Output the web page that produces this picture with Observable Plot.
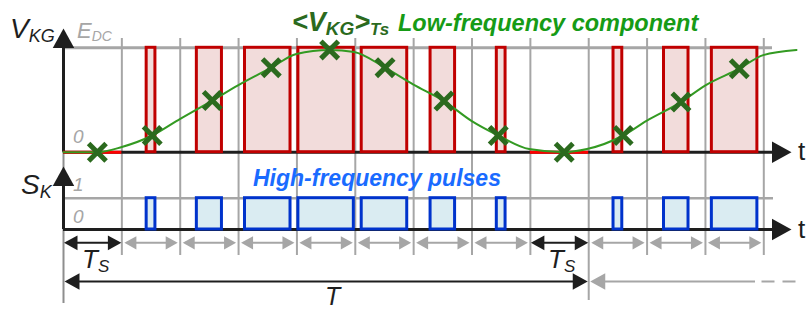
<!DOCTYPE html>
<html><head><meta charset="utf-8">
<script src="https://cdn.jsdelivr.net/npm/d3@7"></script>
<script src="https://cdn.jsdelivr.net/npm/@observablehq/plot@0.6"></script>
<style>body{margin:0;background:#fff}svg{display:block}</style>
</head><body><div id="chart"></div>
<script>
// ---------- data ----------
const periods = [0,1,2,3,4,5,6,7,8,9,10,11];            // switching periods (units of Ts)
const dutyCycles = [0,0.15,0.43,0.78,0.95,0.78,0.42,0.15,0,0.15,0.42,0.78];
const avgTimes  = [0.58,1.52,2.55,3.56,4.56,5.51,6.52,7.45,8.58,9.59,10.58,11.58];
const avgValues = [0,0.16,0.495,0.81,0.98,0.81,0.49,0.16,0,0.16,0.48,0.80];
const curveTimes  = [0,0.58,1.0,1.52,2.0,2.55,2.99,3.56,3.99,4.56,4.98,5.51,5.99,6.52,6.99,7.45,7.98,8.58,8.97,9.59,9.99,10.58,11.0,11.58,11.99,12.56];
const curveValues = [0,0,0.05,0.16,0.32,0.495,0.64,0.81,0.94,0.98,0.96,0.81,0.65,0.49,0.30,0.16,0.03,0,0.03,0.16,0.30,0.48,0.64,0.80,0.93,0.98];
const fundamentalPeriod = 9;  // T in units of Ts
const markedPeriods = [0, 8]; // periods annotated with Ts

// ---------- layout ----------
const W = 810, H = 311;
const X0 = 63, X12 = 763.3, PX = (X12 - X0) / 12;
const BASE_TOP = 151.7, UNIT_TOP = 104.4;
const BASE_BOT = 229, UNIT_BOT = 31.3;
const tx = px => (px - X0) / PX;                 // pixel -> t
const vy = px => (BASE_TOP - px) / UNIT_TOP;     // pixel -> y value
const sk = s => vy(BASE_BOT - UNIT_BOT * s);     // S_K panel value -> y value

const GRAY = "#a6a6a6", BLACK = "#1e1e1e";
const pulses = periods.map(p => ({p, d: dutyCycles[p]}));
const onPulses = pulses.filter(d => d.d > 0);
const zeroPulses = pulses.filter(d => d.d === 0);
const bounds = periods.map(p => p + 1);
const curve = curveTimes.map((t, i) => ({t, v: curveValues[i]}));
const avg = avgTimes.map((t, i) => ({t, v: avgValues[i]}));

const head = {draw(ctx, l) { ctx.moveTo(-0.55 * l, 0); ctx.lineTo(0, -l); ctx.lineTo(0.55 * l, 0); ctx.closePath(); }};
const ARW = 242.3, TARW = 281;
const perArrows = [];
const perShafts = [];
periods.forEach(p => {
  const black = markedPeriods.includes(p);
  const g = black ? 0.5 : 2.5;
  const a = X0 + p * PX + g, b = X0 + (p + 1) * PX - g;
  perShafts.push({x1: tx(a + 3), x2: tx(b - 3), c: black ? BLACK : GRAY});
  perArrows.push({x: tx(a), y: vy(ARW), r: -90, l: black ? 9 : 8, c: black ? BLACK : GRAY});
  perArrows.push({x: tx(b), y: vy(ARW), r: 90, l: black ? 9 : 8, c: black ? BLACK : GRAY});
});
const axisArrows = [
  {x: 0, y: vy(28), r: 0, l: 13, c: BLACK},
  {x: tx(791), y: vy(BASE_TOP), r: 90, l: 13, c: BLACK},
  {x: 0, y: vy(166), r: 0, l: 13, c: BLACK},
  {x: tx(791), y: vy(BASE_BOT), r: 90, l: 13, c: BLACK},
  {x: tx(X0 + 1), y: vy(TARW), r: -90, l: 10, c: BLACK},
  {x: fundamentalPeriod - tx(X0 + 1), y: vy(TARW), r: 90, l: 10, c: BLACK},
  {x: fundamentalPeriod + tx(X0 + 1.5), y: vy(TARW), r: -90, l: 10, c: GRAY}
];

const chart = Plot.plot({
  width: W, height: H,
  marginLeft: 0, marginRight: 0, marginTop: 0, marginBottom: 0,
  x: {type: "linear", domain: [0, 12], range: [X0, X12], axis: null},
  y: {type: "linear", domain: [vy(H), vy(0)], range: [H, 0], axis: null},
  style: {background: "#fff"},
  marks: [
    // grid
    Plot.ruleX(bounds.filter(b => b !== fundamentalPeriod), {y1: vy(38), y2: vy(255), stroke: GRAY, strokeWidth: 2}),
    Plot.ruleX([fundamentalPeriod], {y1: vy(38), y2: vy(300), stroke: GRAY, strokeWidth: 2}),
    Plot.ruleX([0], {y1: vy(38), y2: vy(303), stroke: "#8e8e8e", strokeWidth: 2}),
    Plot.ruleY([1], {x1: 0, x2: tx(772), stroke: GRAY, strokeWidth: 3}),
    Plot.ruleY([sk(1)], {x1: 0, x2: tx(773), stroke: GRAY, strokeWidth: 2.5}),
    // axes
    Plot.ruleY([0], {x1: 0, x2: tx(780), stroke: BLACK, strokeWidth: 3}),
    Plot.ruleY([sk(0)], {x1: 0, x2: tx(780), stroke: BLACK, strokeWidth: 3}),
    Plot.ruleX([0], {y1: 0, y2: vy(40), stroke: BLACK, strokeWidth: 3}),
    Plot.ruleX([0], {y1: sk(0), y2: vy(178), stroke: BLACK, strokeWidth: 3}),
    // period arrows
    Plot.ruleY(perShafts, {y: vy(ARW), x1: "x1", x2: "x2", stroke: "c", strokeWidth: 2}),
    Plot.ruleY([vy(TARW)], {x1: tx(X0 + 4), x2: fundamentalPeriod - tx(X0 + 4), stroke: BLACK, strokeWidth: 2}),
    Plot.ruleY([vy(TARW)], {x1: fundamentalPeriod + tx(X0 + 5), x2: tx(755), stroke: GRAY, strokeWidth: 2}),
    Plot.ruleY([vy(TARW)], {x1: tx(761.5), x2: tx(797), stroke: GRAY, strokeWidth: 2, strokeDasharray: "13,8"}),
    Plot.vector([...perArrows, ...axisArrows], {x: "x", y: "y", rotate: "r", length: "l", anchor: "end", shape: head, fill: "c", stroke: "none"}),
    // high-frequency pulses
    Plot.rect(onPulses, {x1: d => d.p + 0.5 - d.d / 2, x2: d => d.p + 0.5 + d.d / 2, y1: 0, y2: 1, fill: "#f2dcdb", stroke: "#c00000", strokeWidth: 3}),
    Plot.ruleY(zeroPulses, {x1: d => d.p, x2: d => d.p + 1, y: 0, stroke: "#ff0000", strokeWidth: 3}),
    Plot.rect(onPulses, {x1: d => d.p + 0.5 - d.d / 2, x2: d => d.p + 0.5 + d.d / 2, y1: sk(0), y2: sk(1), fill: "#daecf2", stroke: "#0033cc", strokeWidth: 3}),
    // low-frequency component
    Plot.line(curve, {x: "t", y: "v", stroke: "#339a22", strokeWidth: 2, curve: "monotone-x"}),
    Plot.dot(avg, {x: "t", y: "v", symbol: "times", r: 8, stroke: "#2b6a1e", strokeWidth: 5})
  ]
});
document.getElementById("chart").appendChild(chart);

// ---------- labels ----------
const svg = d3.select(chart);
const FONT = "'Liberation Sans', Arial, sans-serif";
function label(x, y, parts, base) {
  const t = svg.append("text").attr("x", x).attr("y", y)
    .attr("text-anchor", "start")
    .attr("font-family", FONT).attr("fill", base.fill || BLACK)
    .attr("font-style", base.style || "normal").attr("font-weight", base.weight || "normal")
    .attr("font-size", base.size);
  parts.forEach(([s, o = {}]) => {
    const ts = t.append("tspan").text(s);
    if (o.size) ts.attr("font-size", o.size);
    if (o.dy != null) ts.attr("dy", o.dy);
    if (o.style) ts.attr("font-style", o.style);
  });
  return t;
}
label(10, 38, [["V"], ["KG", {size: 18, dy: 4}]], {size: 28, style: "italic"});
label(77, 38, [["E"], ["DC", {size: 14, dy: 3}]], {size: 22, style: "italic", fill: GRAY});
label(73, 143, [["0"]], {size: 19, style: "italic", fill: GRAY});
label(292, 31, [["<V"], ["KG", {size: 19, dy: 4}], [">", {size: 27, dy: -4}], ["Ts", {size: 17, dy: 4}]], {size: 27, weight: "bold", style: "italic", fill: "#2b6a1e"});
label(398, 31, [["Low-frequency component"]], {size: 23.5, weight: "bold", style: "italic", fill: "#169b16"});
label(798, 160, [["t"]], {size: 26});
label(21, 194, [["S"], ["K", {size: 18, dy: 4}]], {size: 28, style: "italic"});
label(73, 191, [["1"]], {size: 19, style: "italic", fill: GRAY});
label(73, 223, [["0"]], {size: 19, style: "italic", fill: GRAY});
label(253, 186, [["High-frequency pulses"]], {size: 23, weight: "bold", style: "italic", fill: "#1a6bff"});
label(798, 238, [["t"]], {size: 26});
label(82, 268, [["T"], ["S", {size: 17, dy: 4}]], {size: 26, style: "italic"});
label(548, 268, [["T"], ["S", {size: 17, dy: 4}]], {size: 26, style: "italic"});
label(325, 305, [["T"]], {size: 25, style: "italic"});
</script>
</body></html>
